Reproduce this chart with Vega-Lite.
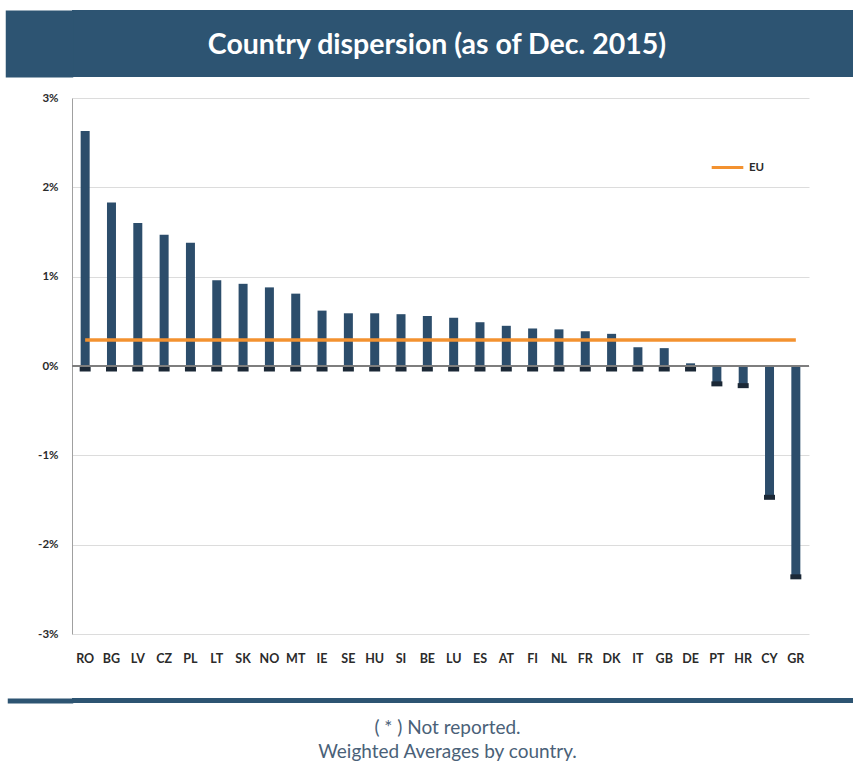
{
  "$schema": "https://vega.github.io/schema/vega-lite/v6.json",
  "padding": {"top": 10, "left": 5, "right": 0, "bottom": 0},
  "background": "white",
  "spacing": 15,
  "columns": 1,
  "resolve": {"legend": {"color": "independent"}},
  "config": {
    "view": {"stroke": null},
    "font": "Lato",
    "axis": {"labelFont": "Lato", "labelFontWeight": "bold", "labelColor": "#2b2b2b"}
  },
  "datasets": {
    "countries": [
      {"country": "RO", "value": 2.63, "EU": 0.29},
      {"country": "BG", "value": 1.83, "EU": 0.29},
      {"country": "LV", "value": 1.6, "EU": 0.29},
      {"country": "CZ", "value": 1.47, "EU": 0.29},
      {"country": "PL", "value": 1.38, "EU": 0.29},
      {"country": "LT", "value": 0.96, "EU": 0.29},
      {"country": "SK", "value": 0.92, "EU": 0.29},
      {"country": "NO", "value": 0.88, "EU": 0.29},
      {"country": "MT", "value": 0.81, "EU": 0.29},
      {"country": "IE", "value": 0.62, "EU": 0.29},
      {"country": "SE", "value": 0.59, "EU": 0.29},
      {"country": "HU", "value": 0.59, "EU": 0.29},
      {"country": "SI", "value": 0.58, "EU": 0.29},
      {"country": "BE", "value": 0.56, "EU": 0.29},
      {"country": "LU", "value": 0.54, "EU": 0.29},
      {"country": "ES", "value": 0.49, "EU": 0.29},
      {"country": "AT", "value": 0.45, "EU": 0.29},
      {"country": "FI", "value": 0.42, "EU": 0.29},
      {"country": "NL", "value": 0.41, "EU": 0.29},
      {"country": "FR", "value": 0.39, "EU": 0.29},
      {"country": "DK", "value": 0.36, "EU": 0.29},
      {"country": "IT", "value": 0.21, "EU": 0.29},
      {"country": "GB", "value": 0.2, "EU": 0.29},
      {"country": "DE", "value": 0.03, "EU": 0.29},
      {"country": "PT", "value": -0.2, "EU": 0.29},
      {"country": "HR", "value": -0.22, "EU": 0.29},
      {"country": "CY", "value": -1.47, "EU": 0.29},
      {"country": "GR", "value": -2.36, "EU": 0.29}
    ]
  },
  "concat": [
    {
      "width": 781,
      "height": 67,
      "view": {"fill": "#2d5472", "stroke": null},
      "data": {"values": [{"t": "Country dispersion (as of Dec. 2015)", "pos": 0.5}]},
      "mark": {"type": "text", "font": "Lato", "fontWeight": "bold", "fontSize": 28.5, "color": "white", "align": "center", "baseline": "middle", "dy": 1},
      "encoding": {
        "text": {"field": "t"},
        "x": {"value": 365},
        "y": {
          "field": "pos",
          "type": "quantitative",
          "scale": {"domain": [0, 1]},
          "axis": {"title": null, "labels": false, "ticks": false, "grid": false, "domainColor": "#2d5472", "domainWidth": 67.5, "domainCap": "butt", "offset": 33}
        }
      }
    },
    {
      "width": 737,
      "height": 536,
      "data": {"name": "countries"},
      "encoding": {
        "x": {
          "field": "country",
          "type": "nominal",
          "sort": null,
          "scale": {"paddingInner": 0, "paddingOuter": 0},
          "axis": {"title": null, "labelAngle": 0, "domain": false, "ticks": false, "labelPadding": 18, "labelFontSize": 12.5, "minExtent": 45}
        }
      },
      "layer": [
        {
          "mark": {"type": "bar", "color": "#2c4d6b", "width": 9},
          "encoding": {
            "y": {
              "field": "value",
              "type": "quantitative",
              "scale": {"domain": [-3, 3], "nice": false},
              "axis": {
                "title": null,
                "values": [-3, -2, -1, 0, 1, 2, 3],
                "labelExpr": "datum.value + '%'",
                "labelFontSize": 11.5,
                "labelPadding": 14,
                "ticks": false,
                "domainColor": "#a0a0a0",
                "gridColor": "#dcdcdc",
                "minExtent": 67
              }
            }
          }
        },
        {
          "transform": [{"filter": "datum.value >= 0"}],
          "mark": {"type": "tick", "color": "#1b2836", "opacity": 1, "thickness": 5, "size": 11, "yOffset": 3},
          "encoding": {"y": {"datum": 0}}
        },
        {
          "transform": [{"filter": "datum.value < 0"}],
          "mark": {"type": "tick", "color": "#1b2836", "opacity": 1, "thickness": 5, "size": 11},
          "encoding": {"y": {"field": "value", "type": "quantitative"}}
        },
        {
          "mark": {"type": "rule", "color": "#7f7f7f", "strokeWidth": 1},
          "encoding": {"x": null, "y": {"datum": 0}}
        },
        {
          "mark": {"type": "line", "strokeWidth": 3.5},
          "encoding": {
            "y": {"field": "EU", "type": "quantitative"},
            "color": {
              "datum": "EU",
              "scale": {"range": ["#f39230"]},
              "legend": {
                "title": null,
                "orient": "none",
                "legendX": 638,
                "legendY": 52,
                "symbolType": "stroke",
                "symbolStrokeWidth": 3,
                "symbolSize": 1000,
                "labelFontSize": 11.5,
                "labelFontWeight": "bold",
                "labelColor": "#2b2b2b",
                "labelFont": "Lato"
              }
            }
          }
        }
      ]
    },
    {
      "width": 781,
      "height": 5,
      "view": {"fill": "#2d5472", "stroke": null},
      "title": {
        "text": ["( * ) Not reported.", "Weighted Averages by country."],
        "orient": "bottom",
        "anchor": "middle",
        "font": "Lato",
        "fontSize": 19,
        "fontWeight": "normal",
        "color": "#4a6178",
        "lineHeight": 24,
        "offset": 13,
        "dx": -15
      },
      "data": {"values": [{"t": "", "pos": 0.5}]},
      "mark": {"type": "text"},
      "encoding": {
        "text": {"field": "t"},
        "y": {
          "field": "pos",
          "type": "quantitative",
          "scale": {"domain": [0, 1]},
          "axis": {"title": null, "labels": false, "ticks": false, "grid": false, "domainColor": "#2d5472", "domainWidth": 65.5, "domainCap": "butt", "offset": 32}
        }
      }
    }
  ]
}
